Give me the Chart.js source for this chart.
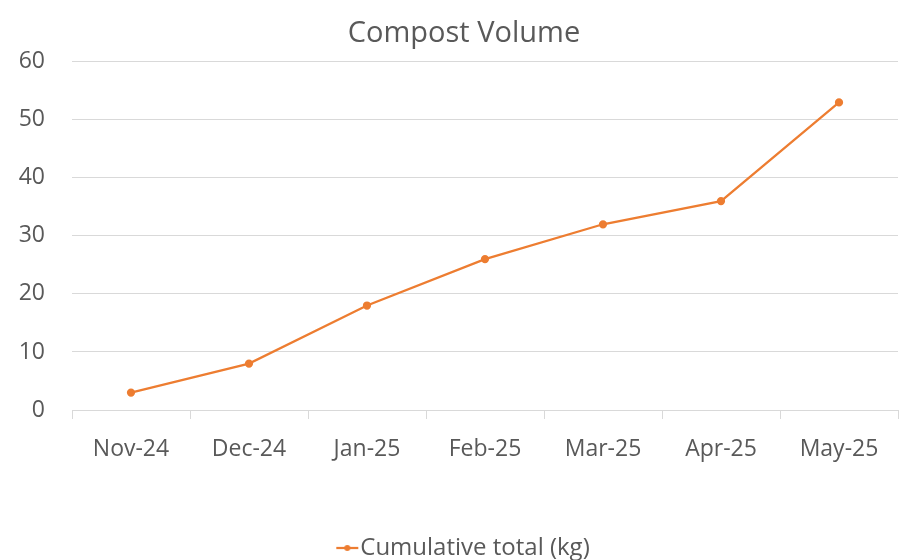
<!DOCTYPE html>
<html>
<head>
<meta charset="utf-8">
<script src="https://cdn.jsdelivr.net/npm/chart.js@4"></script>
<style>
  html, body { margin: 0; padding: 0; background: #fff; }
  #wrap { width: 915px; height: 560px; }
</style>
</head>
<body>
<div id="wrap"><canvas id="chart" width="915" height="560"></canvas></div>
<script>
const months = ['Nov-24', 'Dec-24', 'Jan-25', 'Feb-25', 'Mar-25', 'Apr-25', 'May-25'];
const cumulativeKg = [3, 8, 18, 26, 32, 36, 53];
const yTicks = [0, 10, 20, 30, 40, 50, 60];

const ORANGE = '#ED7D31';
const TEXT = '#595959';
const GRID = '#d9d9d9';

// legend marker: short line with a dot in the middle
const marker = document.createElement('canvas');
marker.width = 44;
marker.height = 10;
const mctx = marker.getContext('2d');
mctx.strokeStyle = ORANGE;
mctx.lineWidth = 2.25;
mctx.beginPath();
mctx.moveTo(15, 5);
mctx.lineTo(37, 5);
mctx.stroke();
mctx.fillStyle = ORANGE;
mctx.beginPath();
mctx.arc(26, 5, 3, 0, Math.PI * 2);
mctx.fill();

// nudge title and legend a bit right (and legend down), like the excel layout
const nudge = {
  id: 'nudge',
  afterLayout(chart) {
    const t = chart.titleBlock;
    t.left += 15; t.right += 15;
    const l = chart.legend;
    l.left += 15; l.right += 15;
    l.top += 10; l.bottom += 10;
  },
};

const ctx = document.getElementById('chart').getContext('2d');
new Chart(ctx, {
  type: 'line',
  data: {
    labels: months,
    datasets: [
      {
        label: 'Cumulative total (kg)',
        data: cumulativeKg,
        borderColor: ORANGE,
        backgroundColor: ORANGE,
        borderWidth: 2.25,
        pointRadius: 3,
        pointHoverRadius: 3,
        tension: 0,
      },
    ],
  },
  plugins: [nudge],
  options: {
    responsive: false,
    animation: false,
    layout: { padding: { left: 0, right: 17, top: 0, bottom: 0 } },
    plugins: {
      title: {
        display: true,
        text: 'Compost Volume',
        color: TEXT,
        font: { family: 'Open Sans', size: 29, weight: 'normal' },
        padding: { top: 16, bottom: 11 },
      },
      legend: {
        position: 'bottom',
        labels: {
          color: TEXT,
          font: { family: 'Open Sans', size: 24 },
          usePointStyle: true,
          pointStyleWidth: 10,
          boxHeight: 10,
          padding: 0,
          generateLabels: (chart) => Chart.defaults.plugins.legend.labels.generateLabels(chart)
            .map((l) => ({ ...l, pointStyle: marker })),
        },
      },
      tooltip: { enabled: false },
    },
    scales: {
      x: {
        offset: true,
        grid: {
          offset: true,
          drawOnChartArea: false,
          drawTicks: true,
          tickLength: 9,
          color: GRID,
        },
        border: { color: GRID },
        ticks: {
          color: TEXT,
          font: { family: 'Open Sans', size: 23 },
          padding: 17,
          maxRotation: 0,
        },
        afterFit: (scale) => { scale.height = 116; },
      },
      y: {
        min: 0,
        max: 60,
        afterBuildTicks: (scale) => { scale.ticks = yTicks.map((v) => ({ value: v })); },
        grid: { color: GRID, drawTicks: false },
        border: { display: false },
        ticks: {
          color: TEXT,
          font: { family: 'Open Sans', size: 23 },
          padding: 27,
        },
        afterFit: (scale) => { scale.width = 72; },
      },
    },
  },
});
</script>
</body>
</html>
